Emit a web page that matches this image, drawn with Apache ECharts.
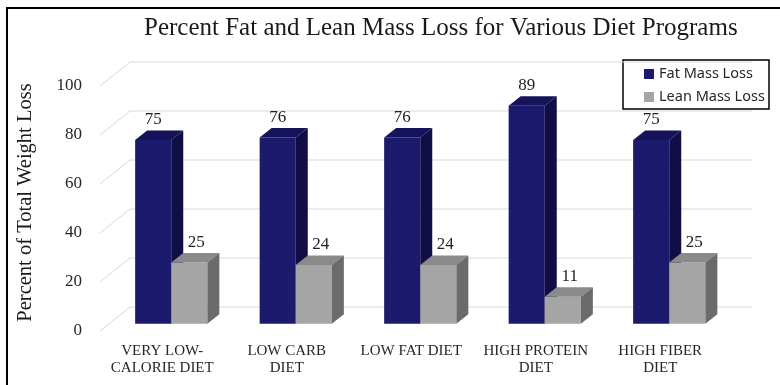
<!DOCTYPE html>
<html>
<head>
<meta charset="utf-8">
<script src="https://cdn.jsdelivr.net/npm/echarts@6/dist/echarts.min.js"></script>
<style>
  html, body { margin: 0; padding: 0; background: #fff; }
  #chart { width: 780px; height: 385px; }
</style>
</head>
<body>
<div id="chart"></div>
<script>
// Diet programs and the share of weight lost as fat vs. lean mass (%)
const categories = ['VERY LOW-\nCALORIE DIET', 'LOW CARB\nDIET', 'LOW FAT DIET', 'HIGH PROTEIN\nDIET', 'HIGH FIBER\nDIET'];
const fatMassLoss = [75, 76, 76, 89, 75];
const leanMassLoss = [25, 24, 24, 11, 25];
const yTicks = [0, 20, 40, 60, 80, 100];

const SERIF = "'Liberation Serif', 'DejaVu Serif', serif";
// Oblique depth of the floor/back wall, in pixels
const DEPTH = { x: 30, y: -24 };
const FRONT = 0.3;   // bar front face sits 30% into the depth
const THICK = 0.4;   // bar depth as a fraction of the full depth

const FAT = { front: '#1c1a6c', top: '#15135a', side: '#100e45' };
const LEAN = { front: '#a5a5a5', top: '#8a8a8a', side: '#6b6b6b' };

function barRenderer(slot, faces, labelShift) {
  return function (params, api) {
    const idx = api.value(0);
    const v = api.value(1);
    const base = api.coord([idx, 0]);
    const top = api.coord([idx, v]);
    const band = api.size([1, 0])[0];
    const w = band * 0.29;
    const cx = base[0] + DEPTH.x * FRONT;
    const x0 = slot === 0 ? cx - w : cx;
    const x1 = x0 + w;
    const yb = base[1] + DEPTH.y * FRONT;
    const yt = top[1] + DEPTH.y * FRONT;
    const ddx = DEPTH.x * THICK, ddy = DEPTH.y * THICK;
    return {
      type: 'group',
      children: [
        { type: 'rect', shape: { x: x0, y: yt, width: w, height: yb - yt },
          style: { fill: faces.front } },
        { type: 'polygon', shape: { points: [[x0, yt], [x1, yt], [x1 + ddx, yt + ddy], [x0 + ddx, yt + ddy]] },
          style: { fill: faces.top } },
        { type: 'polygon', shape: { points: [[x1, yt], [x1 + ddx, yt + ddy], [x1 + ddx, yb + ddy], [x1, yb]] },
          style: { fill: faces.side } },
        { type: 'text', x: (x0 + x1) / 2 + labelShift, y: yt + ddy - 2,
          style: { text: String(v), fill: '#222', font: '17px ' + SERIF,
                   align: 'center', verticalAlign: 'bottom' } }
      ]
    };
  };
}

function gridRenderer(params, api) {
  const y = api.coord([0, api.value(1)])[1];
  const cs = params.coordSys;
  const left = cs.x, right = cs.x + cs.width;
  return {
    type: 'polyline',
    shape: { points: [[left, y], [left + DEPTH.x, y + DEPTH.y], [right + DEPTH.x, y + DEPTH.y]] },
    style: { stroke: '#d9d9d9', lineWidth: 1, fill: null }
  };
}

const chart = echarts.init(document.getElementById('chart'), null, { renderer: 'canvas' });
chart.setOption({
  animation: false,
  backgroundColor: '#fff',
  title: {
    text: 'Percent Fat and Lean Mass Loss for Various Diet Programs',
    left: 139, top: 11,
    textStyle: { fontFamily: SERIF, fontSize: 25, fontWeight: 'normal', color: '#1a1a1a' }
  },
  legend: {
    orient: 'vertical',
    left: 639, top: 61,
    itemWidth: 10, itemHeight: 10, itemGap: 7,
    icon: 'rect',
    data: ['Fat Mass Loss', 'Lean Mass Loss'],
    textStyle: { fontFamily: "'Noto Sans', sans-serif", fontSize: 14.5, color: '#262626', lineHeight: 16 }
  },
  grid: { left: 100, right: 57.5, top: 86, bottom: 54 },
  xAxis: {
    type: 'category',
    data: categories,
    axisLine: { show: false },
    axisTick: { show: false },
    axisLabel: { fontFamily: SERIF, fontSize: 15, lineHeight: 17, color: '#262626', margin: 12, interval: 0 }
  },
  yAxis: {
    type: 'value',
    min: 0, max: 100, interval: 20,
    name: 'Percent of Total Weight Loss',
    nameLocation: 'middle',
    nameGap: 64,
    nameTextStyle: { fontFamily: SERIF, fontSize: 20.5, color: '#1a1a1a', padding: [0, 0, 0, 12] },
    axisLine: { show: false },
    axisTick: { show: false },
    splitLine: { show: false },
    axisLabel: { fontFamily: SERIF, fontSize: 17, color: '#262626', margin: 18 }
  },
  graphic: [
    { type: 'rect', shape: { x: 7, y: 8, width: 800, height: 400 },
      style: { fill: null, stroke: '#000', lineWidth: 2 }, z: 100 },
    { type: 'rect', shape: { x: 623, y: 60, width: 146, height: 49 },
      style: { fill: '#fff', stroke: '#000', lineWidth: 1.5 }, z: 0 }
  ],
  series: [
    { type: 'custom', name: 'walls', silent: true, z: 0,
      renderItem: gridRenderer,
      data: yTicks.map(t => [0, t]) },
    { type: 'custom', name: 'Fat Mass Loss', z: 2,
      itemStyle: { color: FAT.front },
      renderItem: barRenderer(0, FAT, 0),
      data: fatMassLoss.map((v, i) => [i, v]) },
    { type: 'custom', name: 'Lean Mass Loss', z: 3,
      itemStyle: { color: LEAN.front },
      renderItem: barRenderer(1, LEAN, 7),
      data: leanMassLoss.map((v, i) => [i, v]) }
  ]
});
</script>
</body>
</html>
